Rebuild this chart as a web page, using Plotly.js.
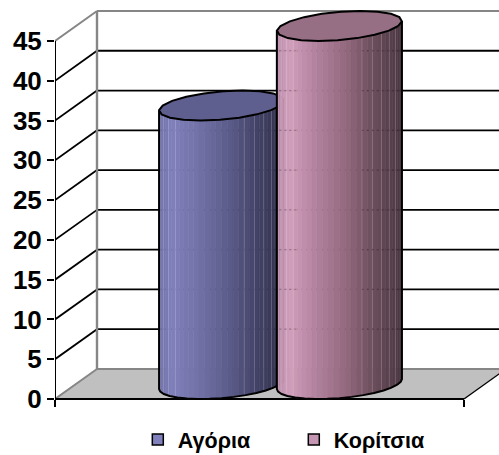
<!DOCTYPE html>
<html>
<head>
<meta charset="utf-8">
<script src="https://cdn.plot.ly/plotly-3.0.1.min.js"></script>
<style>html,body{margin:0;padding:0;background:#fff;overflow:hidden}</style>
</head>
<body>
<div id="chart" style="width:499px;height:460px"></div>
<script>
// Survey result: boys and girls, drawn as 3-D style cylinders
const seriesNames = ['Αγόρια', 'Κορίτσια'];
const seriesValues = [35, 45];
const yTicks = [0, 5, 10, 15, 20, 25, 30, 35, 40, 45];

// Oblique projection of the depth direction, in axis units
const DEPTH_X = 0.1027;
const DEPTH_Y = 3.77;
const X_MAX = 1.0856;
const Y_MIN = -7.667;
const Y_MAX = 50.15;
const centres = [0.356, 0.644];
const RADIUS = 0.144;

const sideStops = [
  [[0, '#6e6ea6'], [0.1, '#8080bc'], [0.3, '#7373a9'], [0.55, '#5d5d8c'], [0.75, '#46466c'], [1, '#2f2f4a']],
  [[0, '#b98ca9'], [0.1, '#d19ebb'], [0.3, '#b3839f'], [0.55, '#94697f'], [0.75, '#6f505f'], [1, '#4a3640']]
];
const topColors = ['#5f5f8f', '#966f85'];
const swatchColors = ['#8080bc', '#c596b3'];
const STRIPS = 34;

function hex(c) { return [1, 3, 5].map(i => parseInt(c.substr(i, 2), 16)); }
function shade(stops, u) {
  for (let i = 1; i < stops.length; i++) {
    if (u <= stops[i][0]) {
      const k = (u - stops[i - 1][0]) / (stops[i][0] - stops[i - 1][0]);
      const a = hex(stops[i - 1][1]), b = hex(stops[i][1]);
      return 'rgb(' + a.map((v, j) => Math.round(v + (b[j] - v) * k)).join(',') + ')';
    }
  }
  return stops[stops.length - 1][1];
}

// Point on a circular rim lying in the horizontal plane at height v
function rim(cx, v, t) {
  const d = 0.5 * (1 + Math.sin(t));
  return [cx + RADIUS * Math.cos(t) + d * DEPTH_X, v + d * DEPTH_Y];
}

function line(x, y, color, width, dash) {
  return { type: 'scatter', mode: 'lines', x, y, cliponaxis: false, showlegend: false, hoverinfo: 'skip',
    line: { color, width, dash: dash || 'solid', simplify: false } };
}
function poly(x, y, fill, border, width) {
  return { type: 'scatter', mode: 'lines', x, y, fill: 'toself', fillcolor: fill, cliponaxis: false,
    showlegend: false, hoverinfo: 'skip', line: { color: border || fill, width: width === undefined ? 0.6 : width } };
}

const traces = [];
const WALL = '#868686';
const maxTick = yTicks[yTicks.length - 1];

// Floor
traces.push(poly([0, DEPTH_X, 1 + DEPTH_X, 1, 0], [0, DEPTH_Y, DEPTH_Y, 0, 0], '#c0c0c0', '#c0c0c0', 0));
// Gridlines on the side and back walls
yTicks.forEach(v => {
  const edge = v === 0 || v === maxTick;
  traces.push(line([0, DEPTH_X], [v, v + DEPTH_Y], edge ? WALL : '#000', edge ? 2 : 1.8));
  traces.push(line([DEPTH_X, X_MAX], [v + DEPTH_Y, v + DEPTH_Y], edge ? WALL : '#000', edge ? 2.2 : 1.8));
});
// Back wall edge and the front floor edges
traces.push(line([DEPTH_X, DEPTH_X], [DEPTH_Y, maxTick + DEPTH_Y], WALL, 2.4));
traces.push(line([1, 1 + DEPTH_X], [0, DEPTH_Y], '#000', 1.4));
traces.push(line([0, 1], [0, 0], '#000', 2));
traces.push(line([0, 0], [0, maxTick], '#000', 2));

// Cylinders
seriesValues.forEach((value, s) => {
  const cx = centres[s];
  const alpha = Math.atan2(0.5 * DEPTH_X, RADIUS);
  const t0 = Math.PI + alpha, t1 = 2 * Math.PI + alpha;
  const left = rim(cx, 0, t0)[0], right = rim(cx, 0, t1)[0];
  const seam = [];
  for (let i = 0; i < STRIPS; i++) {
    const a = t0 + (t1 - t0) * i / STRIPS, b = t0 + (t1 - t0) * (i + 1) / STRIPS;
    const pa = rim(cx, 0, a), pb = rim(cx, 0, b), qa = rim(cx, value, a), qb = rim(cx, value, b);
    const u = ((pa[0] + pb[0]) / 2 - left) / (right - left);
    traces.push(poly([pa[0], pb[0], qb[0], qa[0], pa[0]], [pa[1], pb[1], qb[1], qa[1], pa[1]], shade(sideStops[s], u)));
    seam.push([pb, qb, (pb[0] - left) / (right - left)]);
  }
  // Pale facet seams near the two sides of the cylinder
  seam.forEach((e, i) => {
    if ((e[2] < 0.16 && i % 2 === 1) || (e[2] > 0.68 && e[2] < 0.98 && i % 2 === 0)) {
      traces.push(line([e[0][0], e[1][0]], [e[0][1], e[1][1]], 'rgba(255,255,255,0.22)', 0.8));
    }
  });
  // Faint gridline traces showing through the taller cylinder's sides
  if (s === 1) {
    const w = right - left;
    yTicks.slice(1, -1).forEach(v => {
      const y = v + DEPTH_Y;
      traces.push(line([left + 0.02 * w, left + 0.17 * w], [y, y], 'rgba(40,20,30,0.3)', 1.2, '2px 3px'));
      traces.push(line([left + 0.68 * w, left + 0.99 * w], [y, y], 'rgba(40,20,30,0.3)', 1.2, '2px 3px'));
    });
  }
  // Side outline and front rim
  const ox = [], oy = [];
  const N = 16;
  for (let i = 0; i <= N; i++) {
    const p = rim(cx, 0, t0 + (t1 - t0) * i / N);
    ox.push(p[0]); oy.push(p[1]);
  }
  const topL = rim(cx, value, t0), topR = rim(cx, value, t1);
  traces.push(line([topL[0]].concat(ox, [topR[0]]), [topL[1]].concat(oy, [topR[1]]), '#000', 2));
  // Top cap
  const cx2 = [], cy2 = [];
  for (let i = 0; i <= 20; i++) {
    const p = rim(cx, value, 2 * Math.PI * i / 20);
    cx2.push(p[0]); cy2.push(p[1]);
  }
  traces.push(poly(cx2, cy2, topColors[s], '#000', 2));
});

// Legend-only entries
seriesNames.forEach((name, s) => {
  traces.push({ type: 'scatter', mode: 'markers', name, x: [null], y: [null], hoverinfo: 'skip',
    marker: { symbol: 'square', size: 11, color: swatchColors[s], line: { color: '#000', width: 1.5 } } });
});

const layout = {
  width: 499, height: 460,
  margin: { l: 55, r: 0, t: 0, b: 0, pad: 0 },
  paper_bgcolor: '#fff', plot_bgcolor: '#fff',
  showlegend: true,
  font: { family: '"Liberation Sans", Arial, sans-serif', color: '#000' },
  legend: { orientation: 'h', x: 0.1865, xanchor: 'left', y: 0, yanchor: 'bottom',
    font: { size: 21.5, family: '"Liberation Sans", Arial, sans-serif', weight: 700 },
    entrywidth: 111, entrywidthmode: 'pixels', bgcolor: 'rgba(0,0,0,0)', itemclick: false, itemdoubleclick: false },
  xaxis: { range: [0, X_MAX], showgrid: false, zeroline: false, showline: false, anchor: 'free', position: 61 / 460,
    tickmode: 'array', tickvals: [0, 1], ticks: 'outside', ticklen: 7, tickwidth: 1.5, tickcolor: '#000', showticklabels: false },
  yaxis: { range: [Y_MIN, Y_MAX], showgrid: false, zeroline: false, showline: false,
    tickmode: 'array', tickvals: yTicks, ticktext: yTicks.map(String), ticks: 'outside', ticklen: 7, tickwidth: 2, tickcolor: '#000',
    tickfont: { size: 26, family: '"Liberation Sans", Arial, sans-serif', weight: 700, color: '#000' }, ticklabelstandoff: 0 }
};
Plotly.newPlot('chart', traces, layout, { displayModeBar: false, staticPlot: true });
</script>
</body>
</html>
